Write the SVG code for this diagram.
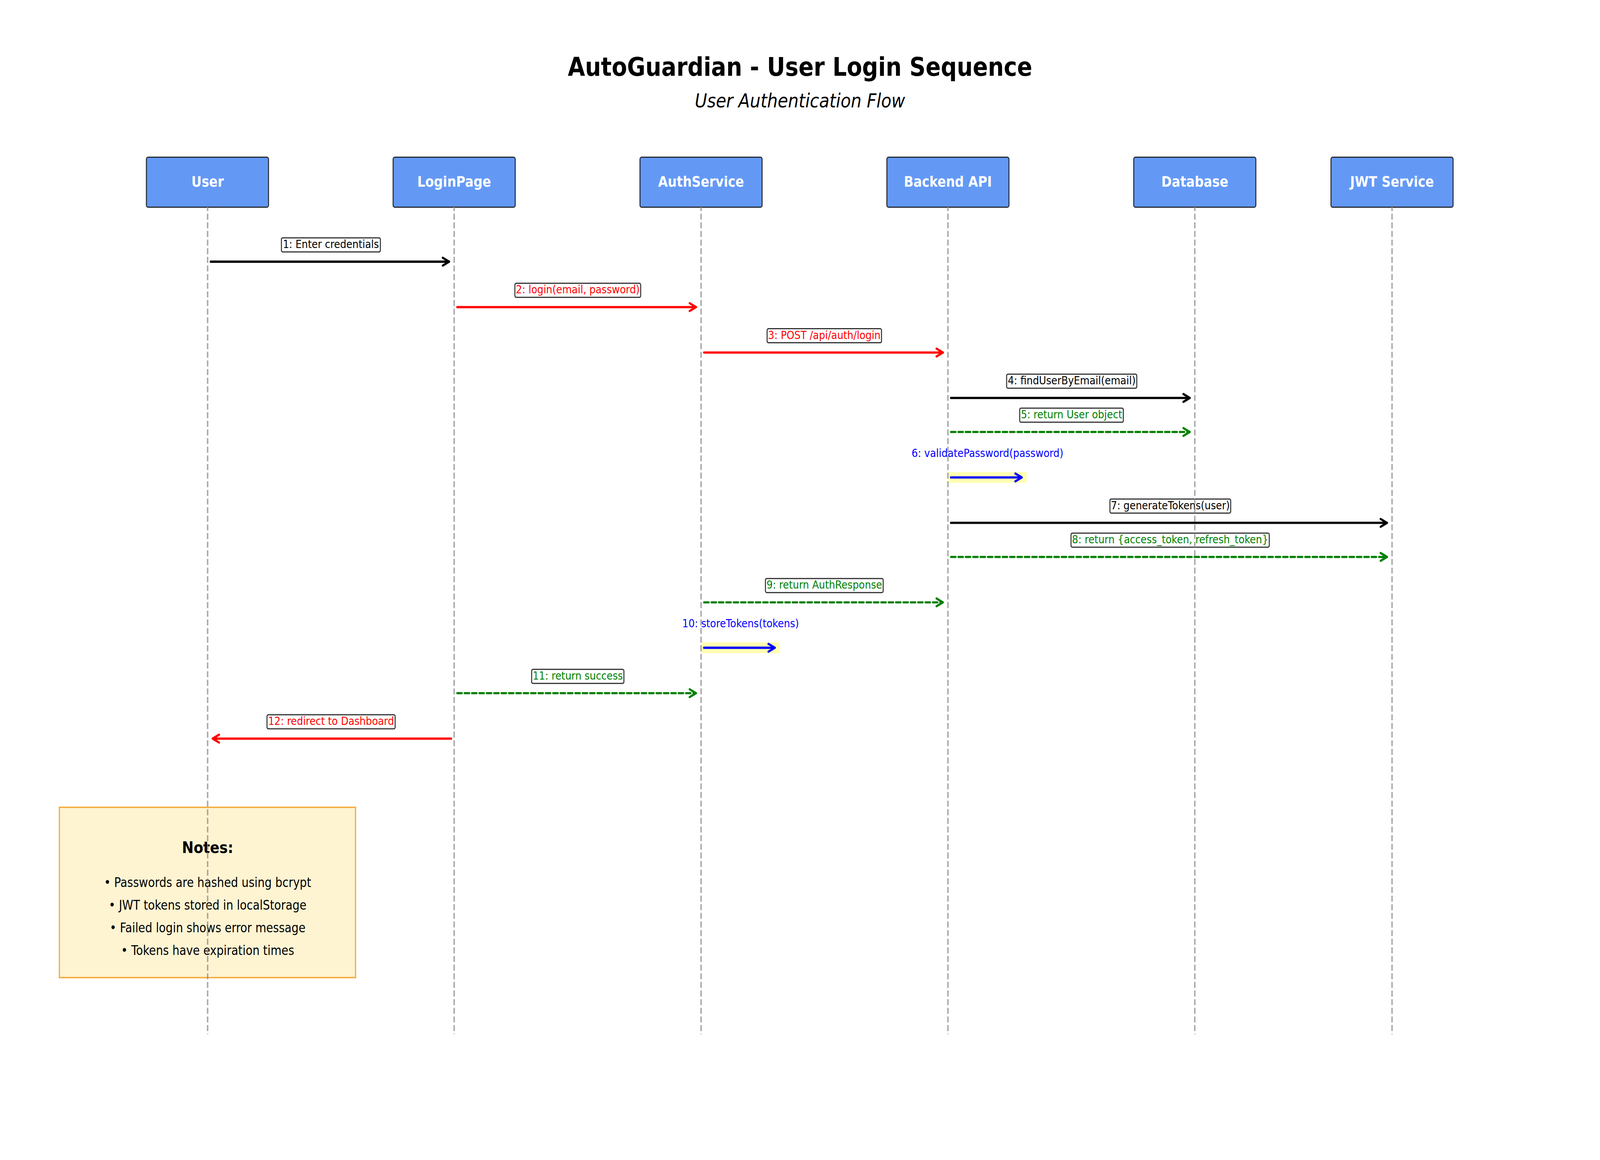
<svg xmlns="http://www.w3.org/2000/svg" width="4770" height="2970" viewBox="0 0 4770 2970" preserveAspectRatio="none">
<style>
svg{width:100vw;height:100vh;overflow:hidden}
text{font-family:"DejaVu Sans","Liberation Sans",sans-serif}
.title{font-size:66.7px;font-weight:bold;fill:#000}
.subtitle{font-size:50px;font-style:italic;fill:#000}
.actor rect{fill:#6399F5;stroke:#262b33;stroke-width:3}
.actor text{font-size:37.5px;font-weight:bold;fill:#fff}
.lbl{fill:#fff;stroke:#333;stroke-width:3}
.mt{font-size:29.2px}
.msg{fill:none;stroke-width:5.8;stroke-linecap:round}
.dash{stroke-dasharray:14 8;stroke-width:5.5}
.self{fill:#FFFFB2}
.life{stroke:#808080;stroke-opacity:0.7;stroke-width:4.17;stroke-dasharray:15.4 6.7;fill:none}
.k{fill:#000}.r{fill:#f00}.g{fill:#008000}.b{fill:#00f}
</style>
<defs>
<marker id="ah-k" markerUnits="userSpaceOnUse" orient="auto" overflow="visible" markerWidth="40" markerHeight="40" refX="0" refY="0"><path d="M-19,-10 L0,0 L-19,10" fill="none" stroke="#000" stroke-width="5.8" stroke-linecap="round" stroke-linejoin="round"/></marker>
<marker id="ah-r" markerUnits="userSpaceOnUse" orient="auto" overflow="visible" markerWidth="40" markerHeight="40" refX="0" refY="0"><path d="M-19,-10 L0,0 L-19,10" fill="none" stroke="#f00" stroke-width="5.8" stroke-linecap="round" stroke-linejoin="round"/></marker>
<marker id="ah-g" markerUnits="userSpaceOnUse" orient="auto" overflow="visible" markerWidth="40" markerHeight="40" refX="0" refY="0"><path d="M-19,-10 L0,0 L-19,10" fill="none" stroke="#008000" stroke-width="5.8" stroke-linecap="round" stroke-linejoin="round"/></marker>
<marker id="ah-b" markerUnits="userSpaceOnUse" orient="auto" overflow="visible" markerWidth="40" markerHeight="40" refX="0" refY="0"><path d="M-19,-10 L0,0 L-19,10" fill="none" stroke="#00f" stroke-width="5.8" stroke-linecap="round" stroke-linejoin="round"/></marker>
</defs>
<rect width="4770" height="2970" fill="#fff"/>
<g id="titles">
<text class="title" x="2385" y="194" text-anchor="middle">AutoGuardian - User Login Sequence</text>
<text class="subtitle" x="2385" y="275" text-anchor="middle">User Authentication Flow</text>
</g>
<g id="actor-user" class="actor"><rect x="436.5" y="402.5" width="364" height="128" rx="5"/><text x="619" y="478" text-anchor="middle">User</text></g>
<g id="actor-loginpage" class="actor"><rect x="1172" y="402.5" width="364" height="128" rx="5"/><text x="1354" y="478" text-anchor="middle">LoginPage</text></g>
<g id="actor-authservice" class="actor"><rect x="1908" y="402.5" width="364" height="128" rx="5"/><text x="2090" y="478" text-anchor="middle">AuthService</text></g>
<g id="actor-backend" class="actor"><rect x="2644" y="402.5" width="364" height="128" rx="5"/><text x="2826" y="478" text-anchor="middle">Backend API</text></g>
<g id="actor-database" class="actor"><rect x="3380" y="402.5" width="364" height="128" rx="5"/><text x="3562" y="478" text-anchor="middle">Database</text></g>
<g id="actor-jwt" class="actor"><rect x="3968" y="402.5" width="364" height="128" rx="5"/><text x="4150" y="478" text-anchor="middle">JWT Service</text></g>
<g id="notes">
<rect x="177" y="2067" width="883" height="436" fill="#FEF4D2" stroke="#F5A937" stroke-width="3.5"/>
<text x="619" y="2184" text-anchor="middle" font-size="41.7" font-weight="bold">Notes:</text>
<text x="619" y="2271" text-anchor="middle" font-size="33.3">• Passwords are hashed using bcrypt</text>
<text x="619" y="2329" text-anchor="middle" font-size="33.3">• JWT tokens stored in localStorage</text>
<text x="619" y="2387" text-anchor="middle" font-size="33.3">• Failed login shows error message</text>
<text x="619" y="2445" text-anchor="middle" font-size="33.3">• Tokens have expiration times</text>
</g>
<g id="connectors">
<g id="m1"><path class="msg" stroke="#000" d="M628,670 H1339" marker-end="url(#ah-k)"/><rect class="lbl" x="839" y="609" width="295" height="36" rx="4"/><text class="mt k" x="986.5" y="635" text-anchor="middle">1: Enter credentials</text></g>
<g id="m2"><path class="msg" stroke="#f00" d="M1363,786.3 H2075" marker-end="url(#ah-r)"/><rect class="lbl" x="1535" y="725.3" width="375" height="36" rx="4"/><text class="mt r" x="1722.5" y="751.3" text-anchor="middle">2: login(email, password)</text></g>
<g id="m3"><path class="msg" stroke="#f00" d="M2099,902.6 H2811" marker-end="url(#ah-r)"/><rect class="lbl" x="2287" y="841.6" width="341" height="36" rx="4"/><text class="mt r" x="2457.5" y="867.6" text-anchor="middle">3: POST /api/auth/login</text></g>
<g id="m4"><path class="msg" stroke="#000" d="M2835,1018.9 H3547" marker-end="url(#ah-k)"/><rect class="lbl" x="3001" y="957.9" width="388" height="36" rx="4"/><text class="mt k" x="3195" y="983.9" text-anchor="middle">4: findUserByEmail(email)</text></g>
<g id="m5"><path class="msg dash" stroke="#008000" d="M2835,1106 H3547" marker-end="url(#ah-g)"/><rect class="lbl" x="3040" y="1045" width="309" height="36" rx="4"/><text class="mt g" x="3194.5" y="1071" text-anchor="middle">5: return User object</text></g>
<g id="m6"><rect class="self" x="2827" y="1208.4" width="234" height="28"/><path class="msg" stroke="#00f" d="M2835,1222.4 H3046" marker-end="url(#ah-b)"/><text class="mt b" x="2944" y="1170.4" text-anchor="middle">6: validatePassword(password)</text></g>
<g id="m7"><path class="msg" stroke="#000" d="M2835,1338.7 H4135" marker-end="url(#ah-k)"/><rect class="lbl" x="3309" y="1277.7" width="360" height="36" rx="4"/><text class="mt k" x="3489" y="1303.7" text-anchor="middle">7: generateTokens(user)</text></g>
<g id="m8"><path class="msg dash" stroke="#008000" d="M2835,1425.9 H4135" marker-end="url(#ah-g)"/><rect class="lbl" x="3193" y="1364.9" width="591" height="36" rx="4"/><text class="mt g" x="3488.5" y="1390.9" text-anchor="middle">8: return {access_token, refresh_token}</text></g>
<g id="m9"><path class="msg dash" stroke="#008000" d="M2099,1542.2 H2811" marker-end="url(#ah-g)"/><rect class="lbl" x="2282" y="1481.2" width="351" height="36" rx="4"/><text class="mt g" x="2457.5" y="1507.2" text-anchor="middle">9: return AuthResponse</text></g>
<g id="m10"><rect class="self" x="2091" y="1644.5" width="234" height="28"/><path class="msg" stroke="#00f" d="M2099,1658.5 H2310" marker-end="url(#ah-b)"/><text class="mt b" x="2208" y="1606.5" text-anchor="middle">10: storeTokens(tokens)</text></g>
<g id="m11"><path class="msg dash" stroke="#008000" d="M1363,1774.8 H2075" marker-end="url(#ah-g)"/><rect class="lbl" x="1585" y="1713.8" width="275" height="36" rx="4"/><text class="mt g" x="1722.5" y="1739.8" text-anchor="middle">11: return success</text></g>
<g id="m12"><path class="msg" stroke="#f00" d="M1345,1891.1 H634" marker-end="url(#ah-r)"/><rect class="lbl" x="796" y="1830.1" width="382" height="36" rx="4"/><text class="mt r" x="987" y="1856.1" text-anchor="middle">12: redirect to Dashboard</text></g>
</g>
<g id="lifelines">
<path class="life" d="M619,525 V2648"/>
<path class="life" d="M1354,525 V2648"/>
<path class="life" d="M2090,525 V2648"/>
<path class="life" d="M2826,525 V2648"/>
<path class="life" d="M3562,525 V2648"/>
<path class="life" d="M4150,525 V2648"/>
</g>
</svg>
